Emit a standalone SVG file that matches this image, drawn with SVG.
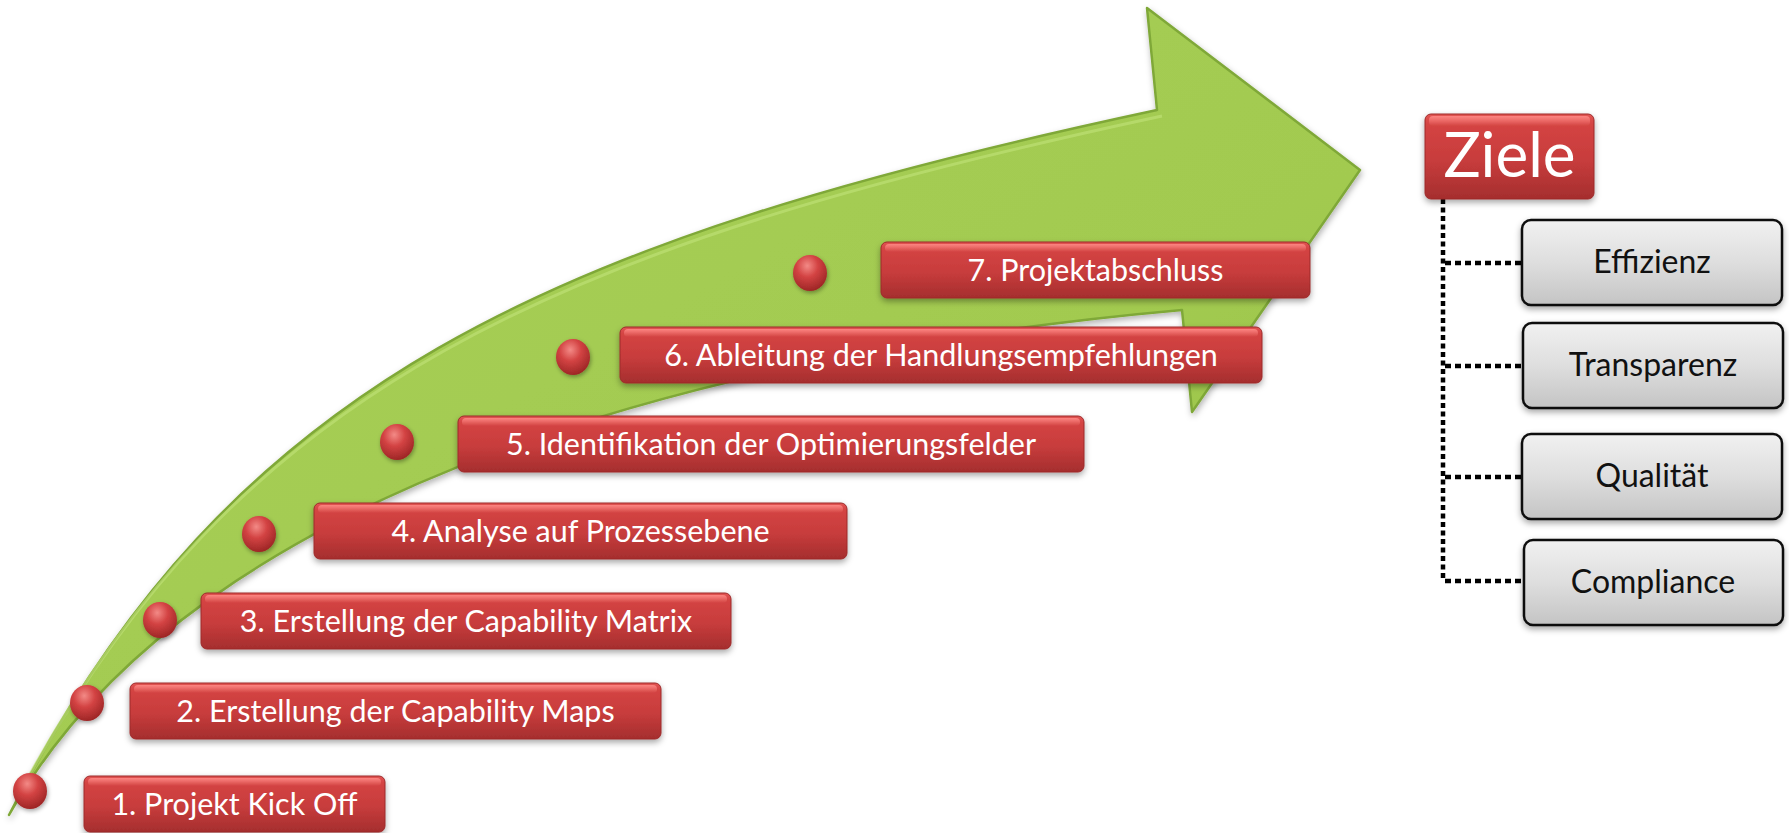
<svg xmlns="http://www.w3.org/2000/svg" width="1789" height="833" viewBox="0 0 1789 833">
<defs>
<style>
.rt{font-family:Lato,"Liberation Sans",sans-serif;font-size:30.5px;fill:#fff;text-anchor:middle}
.gt{font-family:Lato,"Liberation Sans",sans-serif;font-size:32px;fill:#111;text-anchor:middle}
.rb{fill:url(#red);stroke:#9c2b2b;stroke-width:1;filter:url(#sh)}
.hl{fill:url(#hi)}
.gb{fill:url(#gray);stroke:#111;stroke-width:2.5;filter:url(#sh)}
.dot{filter:url(#sh2)}
.ball{fill:url(#ball)}
.con{fill:none;stroke:#000;stroke-width:4.5}
</style>
<linearGradient id="red" x1="0" y1="0" x2="0" y2="1">
<stop offset="0" stop-color="#e25553"/>
<stop offset="0.12" stop-color="#d44443"/>
<stop offset="0.55" stop-color="#c73c3c"/>
<stop offset="1" stop-color="#a52e2e"/>
</linearGradient>
<linearGradient id="hi" x1="0" y1="0" x2="0" y2="1">
<stop offset="0" stop-color="#ff8a86" stop-opacity="0.9"/>
<stop offset="1" stop-color="#ff8a86" stop-opacity="0"/>
</linearGradient>
<linearGradient id="gray" x1="0" y1="0" x2="0" y2="1">
<stop offset="0" stop-color="#f1f1f1"/>
<stop offset="0.5" stop-color="#dedede"/>
<stop offset="1" stop-color="#c4c4c4"/>
</linearGradient>
<linearGradient id="green" x1="0" y1="0" x2="1" y2="1">
<stop offset="0" stop-color="#a9d157"/>
<stop offset="0.6" stop-color="#a2ca50"/>
<stop offset="1" stop-color="#95bf45"/>
</linearGradient>
<radialGradient id="ball" cx="0.42" cy="0.3" r="0.7">
<stop offset="0" stop-color="#f38a86"/>
<stop offset="0.45" stop-color="#d34343"/>
<stop offset="1" stop-color="#9e2626"/>
</radialGradient>
<filter id="sh" x="-5%" y="-20%" width="110%" height="160%">
<feDropShadow dx="0" dy="3" stdDeviation="3" flood-color="#000" flood-opacity="0.35"/>
</filter>
<filter id="sh2" x="-40%" y="-40%" width="180%" height="180%">
<feDropShadow dx="1" dy="2" stdDeviation="2" flood-color="#000" flood-opacity="0.35"/>
</filter>
<filter id="sh3" x="-5%" y="-5%" width="110%" height="115%">
<feDropShadow dx="1" dy="3" stdDeviation="3" flood-color="#000" flood-opacity="0.3"/>
</filter>
</defs>
<rect width="1789" height="833" fill="#fff"/>

<g id="arrow">
<path d="M9,815 C230,380 550,240 1157,110 L1147,8 L1360,170 L1192,412 L1182,310 C732,350 196,480 9,815 Z" fill="url(#green)" stroke="#7fa838" stroke-width="2.5" stroke-linejoin="round" filter="url(#sh3)"/>
<path d="M16,800 C236,384 556,246 1162,116" fill="none" stroke="#c2e27a" stroke-width="3" opacity="0.6"/>
</g>

<g id="dots">
<ellipse class="ball dot" cx="30" cy="791" rx="17" ry="18"/>
<ellipse class="ball dot" cx="87" cy="703" rx="17" ry="18"/>
<ellipse class="ball dot" cx="160" cy="620" rx="17" ry="18"/>
<ellipse class="ball dot" cx="259" cy="534" rx="17" ry="18"/>
<ellipse class="ball dot" cx="397" cy="442" rx="17" ry="18"/>
<ellipse class="ball dot" cx="573" cy="357" rx="17" ry="18"/>
<ellipse class="ball dot" cx="810" cy="273" rx="17" ry="18"/>
</g>

<g id="step1">
<rect class="rb" x="84" y="776" width="301" height="56" rx="6"/>
<rect class="hl" x="88" y="778" width="293" height="8" rx="4"/>
<text class="rt" x="234.5" y="815">1. Projekt Kick Off</text>
</g>
<g id="step2">
<rect class="rb" x="130" y="683" width="531" height="56" rx="6"/>
<rect class="hl" x="134" y="685" width="523" height="8" rx="4"/>
<text class="rt" x="395.5" y="722">2. Erstellung der Capability Maps</text>
</g>
<g id="step3">
<rect class="rb" x="201" y="593" width="530" height="56" rx="6"/>
<rect class="hl" x="205" y="595" width="522" height="8" rx="4"/>
<text class="rt" x="466" y="632">3. Erstellung der Capability Matrix</text>
</g>
<g id="step4">
<rect class="rb" x="314" y="503" width="533" height="56" rx="6"/>
<rect class="hl" x="318" y="505" width="525" height="8" rx="4"/>
<text class="rt" x="580.5" y="542">4. Analyse auf Prozessebene</text>
</g>
<g id="step5">
<rect class="rb" x="458" y="416" width="626" height="56" rx="6"/>
<rect class="hl" x="462" y="418" width="618" height="8" rx="4"/>
<text class="rt" x="771" y="455">5. Identifikation der Optimierungsfelder</text>
</g>
<g id="step6">
<rect class="rb" x="620" y="327" width="642" height="56" rx="6"/>
<rect class="hl" x="624" y="329" width="634" height="8" rx="4"/>
<text class="rt" x="941" y="366">6. Ableitung der Handlungsempfehlungen</text>
</g>
<g id="step7">
<rect class="rb" x="881" y="242" width="429" height="56" rx="6"/>
<rect class="hl" x="885" y="244" width="421" height="8" rx="4"/>
<text class="rt" x="1095.5" y="281">7. Projektabschluss</text>
</g>

<g id="connectors">
<path class="con" d="M1443,199 V581" stroke-dasharray="5 3.5"/>
<path class="con" d="M1445,263 H1522" stroke-dasharray="6 4"/>
<path class="con" d="M1445,366 H1522" stroke-dasharray="6 4"/>
<path class="con" d="M1445,477 H1522" stroke-dasharray="6 4"/>
<path class="con" d="M1445,581 H1522" stroke-dasharray="6 4"/>
</g>

<g id="ziele">
<rect class="rb" x="1425" y="114" width="169" height="85" rx="6"/>
<rect class="hl" x="1429" y="116" width="161" height="10" rx="4"/>
<text x="1509.5" y="177" style="font-family:Lato,'Liberation Sans',sans-serif;font-size:62px;fill:#fff;text-anchor:middle">Ziele</text>
</g>
<g id="effizienz">
<rect class="gb" x="1522" y="220" width="260" height="85" rx="9"/>
<text class="gt" x="1652" y="273">Effizienz</text>
</g>
<g id="transparenz">
<rect class="gb" x="1523" y="323" width="260" height="85" rx="9"/>
<text class="gt" x="1653" y="376">Transparenz</text>
</g>
<g id="qualitaet">
<rect class="gb" x="1522" y="434" width="260" height="85" rx="9"/>
<text class="gt" x="1652" y="487">Qualität</text>
</g>
<g id="compliance">
<rect class="gb" x="1524" y="540" width="259" height="85" rx="9"/>
<text class="gt" x="1653" y="593">Compliance</text>
</g>
</svg>
